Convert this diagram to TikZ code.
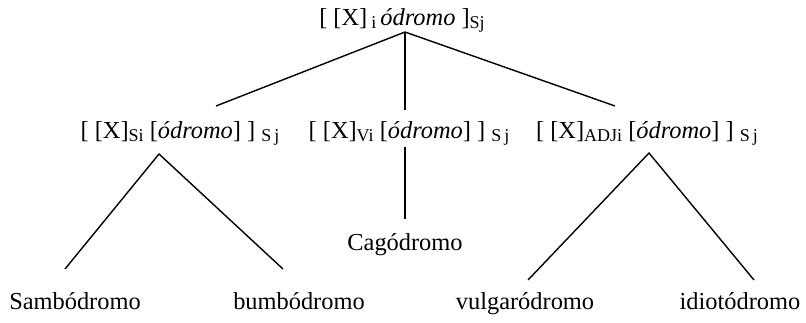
\documentclass[tikz,border=0pt]{standalone}
\usepackage{fontspec}
\setmainfont{Liberation Serif}
\usepackage{tikz}
\usetikzlibrary{positioning}

\newcommand{\lsub}[1]{\raisebox{-0.35ex}{\fontsize{9}{9}\selectfont #1}}

\begin{document}
\begin{tikzpicture}[x=0.5pt, y=-0.5pt,
    lbl/.style={anchor=base, inner sep=0pt, font=\fontsize{12.2}{14}\selectfont},
    branch/.style={thick, line width=0.7pt}]
  \useasboundingbox (0,0) rectangle (806,322);
  \node[lbl] (root) at (402,25) {[\ [X]\,\lsub{i}\,\textit{ódromo}\ ]\lsub{Sj}};
  \node[lbl] (nounrule) at (180,138) {[\ [X]\lsub{Si}\ [\textit{ódromo}]\ ]\ \lsub{S\,j}};
  \node[lbl] (verbrule) at (409,138) {[\ [X]\lsub{Vi}\ [\textit{ódromo}]\ ]\ \lsub{S\,j}};
  \node[lbl] (adjrule)  at (647,138) {[\ [X]\lsub{ADJi}\ [\textit{ódromo}]\ ]\ \lsub{S\,j}};
  \node[lbl] (cago)  at (405,250) {Cagódromo};
  \node[lbl] (sambo) at (75,309)  {Sambódromo};
  \node[lbl] (bumbo) at (299,309) {bumbódromo};
  \node[lbl] (vulga) at (525,309) {vulgaródromo};
  \node[lbl] (idiot) at (740,309) {idiotódromo};
  \coordinate (root-b) at (405,32);
  \coordinate (noun-t) at (216,106);
  \coordinate (verb-t) at (405,110);
  \coordinate (adj-t)  at (615,106);
  \coordinate (noun-b) at (159,154);
  \coordinate (verb-b) at (405,147);
  \coordinate (adj-b)  at (649,153);
  \coordinate (sambo-t) at (65,269);
  \coordinate (bumbo-t) at (283,269);
  \coordinate (cago-t)  at (405,219);
  \coordinate (vulga-t) at (528,280);
  \coordinate (idiot-t) at (754,280);
  \draw[branch] (noun-t) -- (root-b) -- (adj-t);
  \draw[branch] (root-b) -- (verb-t);
  \draw[branch] (sambo-t) -- (noun-b) -- (bumbo-t);
  \draw[branch] (verb-b) -- (cago-t);
  \draw[branch] (vulga-t) -- (adj-b) -- (idiot-t);
\end{tikzpicture}
\end{document}
